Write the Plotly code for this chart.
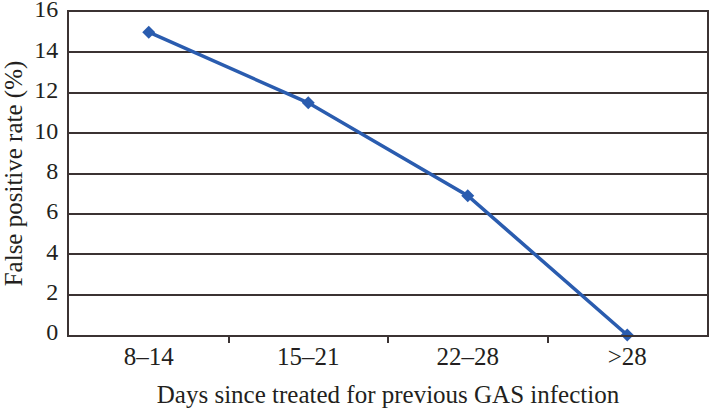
import plotly.graph_objects as go

categories = ["8\u201314", "15\u201321", "22\u201328", ">28"]
false_positive = [15.0, 11.5, 6.9, 0.0]
y_ticks = [0, 2, 4, 6, 8, 10, 12, 14, 16]

xpos = list(range(len(categories)))

fig = go.Figure()
fig.add_trace(go.Scatter(
    x=xpos, y=false_positive, mode="lines+markers",
    line=dict(color="#2a5caf", width=3.5),
    marker=dict(symbol="diamond", size=10, color="#2a5caf"),
    showlegend=False, cliponaxis=False, hoverinfo="skip",
))

font = "Liberation Serif"
axis_col = "#3b3333"
fig.update_layout(
    width=709, height=411,
    margin=dict(l=69, r=2, t=12, b=76, autoexpand=False),
    paper_bgcolor="white", plot_bgcolor="white",
    font=dict(family=font, color="#231f20", size=25),
    xaxis=dict(
        range=[-0.5, 3.5], tickmode="array", tickvals=xpos, ticktext=categories,
        showgrid=False, zeroline=False, ticks="",
        showline=True, linecolor=axis_col, linewidth=2, mirror=True,
        tickfont=dict(size=25, family=font), ticklabeloverflow="allow",
        ticklabelstandoff=-2,
        minor=dict(tickvals=[0.5, 1.5, 2.5], ticks="outside", ticklen=6,
                   tickwidth=2, tickcolor=axis_col, showgrid=False),
        title=dict(text="Days since treated for previous GAS infection",
                   font=dict(size=25, family=font), standoff=16),
    ),
    yaxis=dict(
        range=[0, 16], tickmode="array", tickvals=y_ticks,
        showgrid=True, gridcolor=axis_col, gridwidth=1.8, zeroline=False,
        showline=True, linecolor=axis_col, linewidth=2, mirror=True,
        ticks="", ticklabelstandoff=4, ticklabeloverflow="allow",
        ticklabelshift=-3,
        tickfont=dict(size=24, family=font),
        title=dict(text="False positive rate (%)", font=dict(size=25, family=font), standoff=9),
    ),
)

fig.write_html("out.html", config={"displayModeBar": False},
               post_script="document.body.style.margin='0';")
